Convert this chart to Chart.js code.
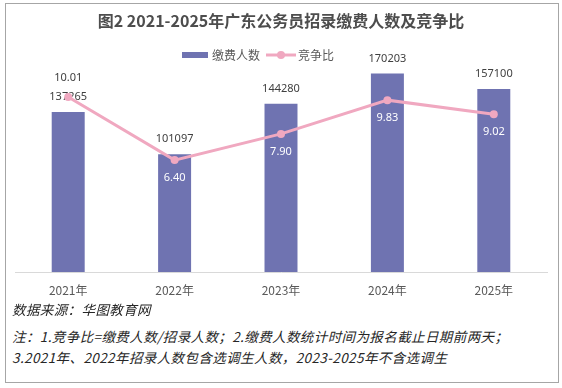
<!DOCTYPE html>
<html>
<head>
<meta charset="utf-8">
<script src="https://cdn.jsdelivr.net/npm/chart.js@4"></script>
<style>
html, body { margin: 0; padding: 0; background: #fff; }
body { width: 562px; height: 388px; position: relative; overflow: hidden; font-family: "Noto Sans CJK SC", sans-serif; }
#wrap { position: absolute; left: 0; top: 0; width: 562px; height: 312px; }
#frame { position: absolute; left: 5px; top: 3px; width: 552px; height: 378px; border: 1px solid #a6a6a6; pointer-events: none; }
.note { position: absolute; left: 12px; font-size: 13.5px; font-style: italic; color: #262626; white-space: nowrap; line-height: 1; letter-spacing: 0.4px; }
</style>
</head>
<body>
<div id="wrap"><canvas id="chart" width="562" height="312"></canvas></div>
<div class="note" style="top:303px">数据来源：华图教育网</div>
<div class="note" style="top:330px">注：1.竞争比=缴费人数/招录人数；2.缴费人数统计时间为报名截止日期前两天；</div>
<div class="note" style="top:351px">3.2021年、2022年招录人数包含选调生人数，2023-2025年不含选调生</div>
<div id="frame"></div>
<script>
const years = ['2021年', '2022年', '2023年', '2024年', '2025年'];
const payers = [137265, 101097, 144280, 170203, 157100];
const ratio = [10.01, 6.40, 7.90, 9.83, 9.02];
const ratioLabelPos = ['above', 'below', 'below', 'below', 'below'];

const barColor = '#6f73b1';
const lineColor = '#f0a8c0';
const cjk = '"Noto Sans CJK SC", sans-serif';

// value labels like excel data labels
const labelPlugin = {
    id: 'valueLabels',
    afterDatasetDraw(chart, args) {
        const ctx = chart.ctx;
        ctx.save();
        ctx.font = '11px "Noto Sans", sans-serif';
        ctx.textAlign = 'center';
        ctx.textBaseline = 'middle';
        if (args.index === 0) {
            ctx.fillStyle = '#404040';
            args.meta.data.forEach((bar, i) => {
                ctx.fillText(String(payers[i]), bar.x, bar.y - 15);
            });
        } else {
            args.meta.data.forEach((pt, i) => {
                const above = ratioLabelPos[i] === 'above';
                ctx.fillStyle = above ? '#404040' : '#ffffff';
                ctx.fillText(ratio[i].toFixed(2), pt.x, above ? pt.y - 19 : pt.y + 18);
            });
        }
        ctx.restore();
    }
};

// legend drawn by hand (bar swatch + line with marker)
const legendPlugin = {
    id: 'excelLegend',
    afterDraw(chart) {
        const ctx = chart.ctx;
        const ds = chart.data.datasets;
        const y = 55;
        ctx.save();
        ctx.font = '12px ' + cjk;
        ctx.textBaseline = 'middle';
        ctx.fillStyle = barColor;
        ctx.fillRect(182, y - 3, 26, 6);
        ctx.fillStyle = '#595959';
        ctx.fillText(ds[0].label, 212, y);
        ctx.strokeStyle = lineColor;
        ctx.lineWidth = 3;
        ctx.beginPath();
        ctx.moveTo(266, y);
        ctx.lineTo(296, y);
        ctx.stroke();
        ctx.fillStyle = lineColor;
        ctx.beginPath();
        ctx.arc(281, y, 4, 0, Math.PI * 2);
        ctx.fill();
        ctx.fillStyle = '#595959';
        ctx.fillText(ds[1].label, 298, y);
        ctx.restore();
    }
};

new Chart(document.getElementById('chart').getContext('2d'), {
    data: {
        labels: years,
        datasets: [{
            type: 'bar',
            label: '缴费人数',
            data: payers,
            yAxisID: 'y',
            backgroundColor: barColor,
            barPercentage: 0.31,
            categoryPercentage: 1,
            order: 1
        }, {
            type: 'line',
            label: '竞争比',
            data: ratio,
            yAxisID: 'y1',
            borderColor: lineColor,
            borderWidth: 3,
            backgroundColor: lineColor,
            pointBackgroundColor: lineColor,
            pointBorderWidth: 0,
            pointRadius: 4,
            tension: 0,
            order: 0
        }]
    },
    options: {
        responsive: false,
        animation: false,
        devicePixelRatio: 1,
        layout: {
            padding: { left: 15, right: 15, top: 0, bottom: 3.6 }
        },
        plugins: {
            legend: { display: false },
            tooltip: { enabled: false },
            title: {
                display: true,
                text: '图2 2021-2025年广东公务员招录缴费人数及竞争比',
                color: '#4d4d4d',
                font: { size: 16, weight: 'bold', family: cjk },
                padding: { top: 11, bottom: 32 }
            }
        },
        scales: {
            x: {
                grid: { display: false, drawTicks: false },
                border: { display: true, color: '#d9d9d9', width: 1 },
                ticks: { color: '#595959', font: { size: 12, family: cjk }, padding: 11 }
            },
            y: { display: false, min: 0, max: 180000 },
            y1: { display: false, min: 0, max: 12 }
        }
    },
    plugins: [labelPlugin, legendPlugin]
});
</script>
</body>
</html>
